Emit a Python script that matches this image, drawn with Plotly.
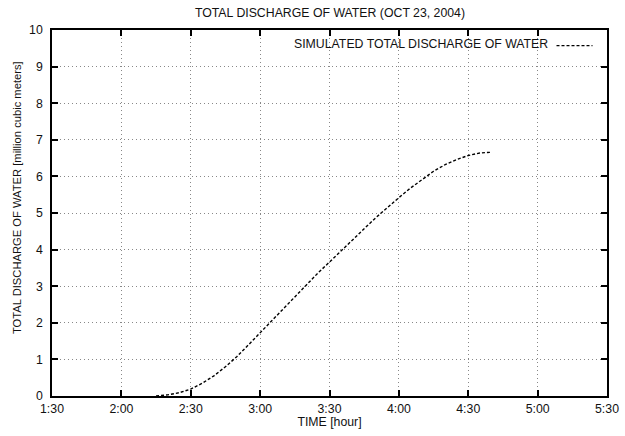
import plotly.graph_objects as go

# Time in h:mm, discharge in million cubic meters
time_labels = ["2:15", "2:20", "2:25", "2:30", "2:35", "2:40", "2:45", "2:50", "2:55",
               "3:00", "3:05", "3:10", "3:15", "3:20", "3:25", "3:30", "3:35", "3:40",
               "3:45", "3:50", "3:55", "4:00", "4:05", "4:10", "4:15", "4:20", "4:25",
               "4:30", "4:35", "4:40"]
discharge = [0.0, 0.03, 0.09, 0.19, 0.35, 0.55, 0.80, 1.08, 1.40,
             1.73, 2.05, 2.38, 2.71, 3.04, 3.36, 3.66, 3.97, 4.27,
             4.57, 4.87, 5.15, 5.42, 5.68, 5.92, 6.14, 6.32, 6.46,
             6.57, 6.64, 6.66]

x_tick_labels = ["1:30", "2:00", "2:30", "3:00", "3:30", "4:00", "4:30", "5:00", "5:30"]
y_ticks = list(range(0, 11))


def to_min(s):
    h, m = s.split(":")
    return int(h) * 60 + int(m)


x_vals = [to_min(t) for t in time_labels]
x_tick_vals = [to_min(t) for t in x_tick_labels]

FONT = "Liberation Sans, Arial, sans-serif"
FS = 12.3
TXT = "#111"

fig = go.Figure()
fig.add_trace(go.Scatter(
    x=x_vals, y=discharge, mode="lines",
    line=dict(color="black", width=1.4, dash="3px,2px"),
    name="", showlegend=True,
))

fig.update_layout(
    width=625, height=436,
    margin=dict(l=52, r=18, t=30, b=40, autoexpand=False),
    paper_bgcolor="white", plot_bgcolor="white",
    font=dict(family=FONT, size=FS, color=TXT),
    title=dict(text="TOTAL DISCHARGE OF WATER (OCT 23, 2004)", x=0.528, xanchor="center",
               y=0.97, yanchor="middle", font=dict(size=FS, family=FONT, color=TXT)),
    showlegend=True,
    legend=dict(x=0.9, y=0.997, xanchor="left", yanchor="top", bgcolor="rgba(0,0,0,0)",
                itemwidth=36, font=dict(size=1), tracegroupgap=0,
                borderwidth=0),
)

fig.add_annotation(text="SIMULATED TOTAL DISCHARGE OF WATER", xref="paper", yref="paper",
                   x=0.898, y=0.962, xanchor="right", yanchor="middle", showarrow=False,
                   font=dict(size=FS, family=FONT, color=TXT))

# y-axis title (placed as rotated text, slightly above the plot centre as in the reference)
fig.add_annotation(text="TOTAL DISCHARGE OF WATER [million cubic meters]",
                   xref="paper", yref="paper", x=-0.063, y=0.541,
                   xanchor="center", yanchor="middle", textangle=-90, showarrow=False,
                   font=dict(size=11.2, family=FONT, color=TXT))

grid_kw = dict(showgrid=True, gridcolor="#888", griddash="1px,3px", gridwidth=1,
               showline=True, linecolor="black", linewidth=1.5, mirror="ticks",
               ticks="inside", ticklen=6, tickcolor="black", tickwidth=1.5,
               zeroline=False, automargin=False)

fig.update_xaxes(
    range=[90, 330], tickvals=x_tick_vals, ticktext=x_tick_labels,
    title=dict(text="TIME [hour]", font=dict(size=FS, family=FONT, color=TXT), standoff=2),
    tickfont=dict(size=FS, family=FONT, color=TXT),
    **grid_kw,
)
fig.update_yaxes(
    range=[0, 10], tickvals=y_ticks, ticklabelstandoff=5,
    tickfont=dict(size=FS, family=FONT, color=TXT),
    **grid_kw,
)

fig.write_html("out.html")
